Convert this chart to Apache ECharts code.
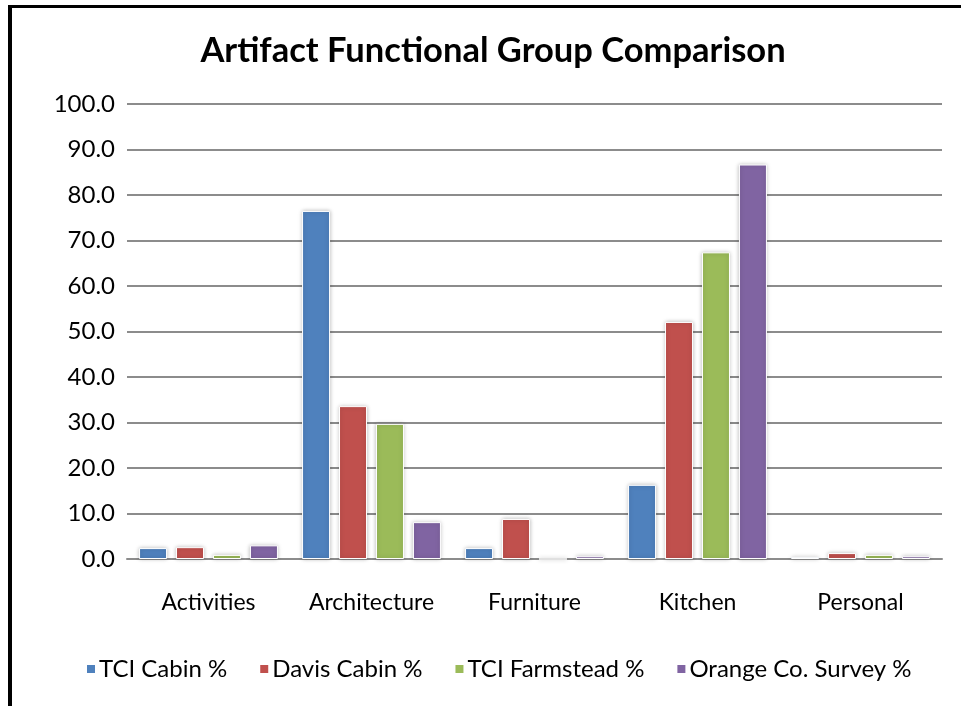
<!DOCTYPE html>
<html>
<head>
<meta charset="utf-8">
<script src="https://cdn.jsdelivr.net/npm/echarts@6/dist/echarts.min.js"></script>
<style>
  html, body { margin: 0; padding: 0; background: #fff; overflow: hidden; }
  #frame {
    position: absolute; left: 8px; top: 5px; width: 1000px; height: 800px;
    border-left: 4px solid #000; border-top: 3px solid #000;
  }
  #chart { position: absolute; left: 0; top: 0; width: 961px; height: 706px; }
</style>
</head>
<body>
<div id="frame"></div>
<div id="chart"></div>
<script>
const categories = ['Activities', 'Architecture', 'Furniture', 'Kitchen', 'Personal']
const seriesNames = ['TCI Cabin %', 'Davis Cabin %', 'TCI Farmstead %', 'Orange Co. Survey %']
const tciCabin = [2.4, 76.5, 2.4, 16.3, 0.4]
const davisCabin = [2.6, 33.6, 8.8, 52.1, 1.3]
const tciFarmstead = [0.9, 29.7, 0, 67.4, 0.9]
const orangeSurvey = [3.0, 8.1, 0.6, 86.7, 0.6]
const colors = ['#4F81BD', '#C0504D', '#9BBB59', '#8064A2']

const chart = echarts.init(document.getElementById('chart'))
const font = 'Lato, "Open Sans", sans-serif'

const barStyle = function (color) {
  return {
    color: color,
    borderColor: '#ffffff',
    borderWidth: 1,
    shadowBlur: 4,
    shadowColor: 'rgba(0,0,0,0.25)',
    shadowOffsetX: 0,
    shadowOffsetY: 0
  }
}

chart.setOption({
  animation: false,
  title: {
    text: 'Artifact Functional Group Comparison',
    left: 488,
    textAlign: 'center',
    top: 28,
    textStyle: {
      fontFamily: font,
      fontWeight: 'bold',
      fontSize: 34.5,
      color: '#000'
    }
  },
  legend: {
    data: seriesNames,
    bottom: 20,
    left: 80,
    icon: 'rect',
    itemWidth: 10,
    itemHeight: 10,
    itemGap: 31,
    textStyle: {
      fontFamily: font,
      fontSize: 24,
      color: '#000',
      padding: [0, 0, 0, -2]
    }
  },
  grid: {
    left: 127,
    right: 19,
    top: 104,
    bottom: 147
  },
  xAxis: {
    type: 'category',
    data: categories,
    axisLine: { lineStyle: { color: '#8c8c8c', width: 2 } },
    axisTick: { show: false },
    axisLabel: {
      interval: 0,
      fontFamily: font,
      fontSize: 23,
      color: '#000',
      margin: 32
    }
  },
  yAxis: {
    type: 'value',
    min: 0,
    max: 100,
    interval: 10,
    axisLine: { show: false },
    axisTick: { show: false },
    splitLine: { lineStyle: { color: '#8c8c8c', width: 2 } },
    axisLabel: {
      fontFamily: font,
      fontSize: 24,
      color: '#000',
      margin: 12,
      formatter: function (v) { return v.toFixed(1) }
    }
  },
  series: [
    { name: seriesNames[0], type: 'bar', data: tciCabin, barWidth: 28, barGap: '32%', itemStyle: barStyle(colors[0]) },
    { name: seriesNames[1], type: 'bar', data: davisCabin, barWidth: 28, barGap: '32%', itemStyle: barStyle(colors[1]) },
    { name: seriesNames[2], type: 'bar', data: tciFarmstead, barWidth: 28, barGap: '32%', itemStyle: barStyle(colors[2]) },
    { name: seriesNames[3], type: 'bar', data: orangeSurvey, barWidth: 28, barGap: '32%', itemStyle: barStyle(colors[3]) }
  ],
  color: colors
})
</script>
</body>
</html>
